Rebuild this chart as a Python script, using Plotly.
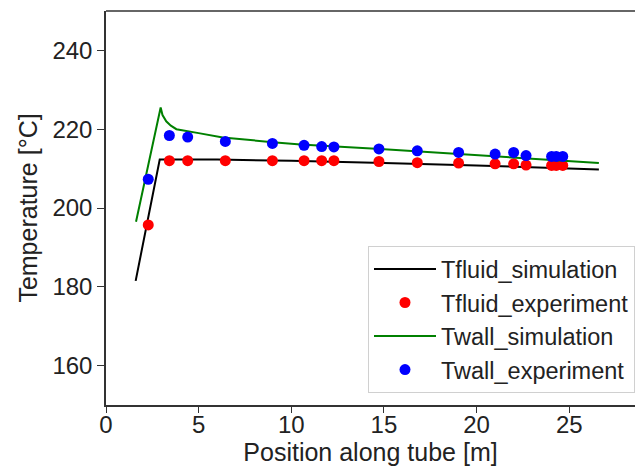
import plotly.graph_objects as go

# Simulation curves
sim_fluid_x = [1.6, 2.9, 6.0, 10.0, 15.0, 20.0, 26.6]
sim_fluid_y = [181.5, 212.3, 212.3, 212.0, 211.4, 210.8, 209.8]

sim_wall_x = [1.62, 2.95, 3.05, 3.25, 3.5, 3.8, 5.0, 6.3, 9.0, 10.5, 14.8, 21.3, 26.6]
sim_wall_y = [196.5, 225.5, 223.6, 222.0, 220.9, 220.0, 219.0, 217.9, 216.7, 216.1, 215.0, 213.0, 211.4]

# Experimental points
exp_x = [2.28, 3.42, 4.41, 6.44, 8.98, 10.69, 11.64, 12.3, 14.73, 16.8, 19.03,
         21.0, 22.0, 22.67, 24.05, 24.3, 24.65]
exp_fluid_y = [195.7, 212.0, 212.0, 212.0, 212.0, 212.0, 212.0, 212.0, 211.8, 211.5,
               211.4, 211.2, 211.2, 210.9, 210.8, 210.8, 210.8]
exp_wall_y = [207.3, 218.4, 218.0, 216.9, 216.4, 215.9, 215.6, 215.5, 215.0, 214.5,
              214.1, 213.7, 214.1, 213.3, 213.1, 213.1, 213.1]

x_ticks = [0, 5, 10, 15, 20, 25]
y_ticks = [160, 180, 200, 220, 240]

FONT = "Arial, Liberation Sans, sans-serif"

fig = go.Figure()
fig.add_trace(go.Scatter(x=sim_fluid_x, y=sim_fluid_y, mode="lines",
                         line=dict(color="black", width=2),
                         name="Tfluid_simulation"))
fig.add_trace(go.Scatter(x=exp_x, y=exp_fluid_y, mode="markers",
                         marker=dict(color="#ff0000", size=11),
                         name="Tfluid_experiment"))
fig.add_trace(go.Scatter(x=sim_wall_x, y=sim_wall_y, mode="lines",
                         line=dict(color="#008000", width=2),
                         name="Twall_simulation"))
fig.add_trace(go.Scatter(x=exp_x, y=exp_wall_y, mode="markers",
                         marker=dict(color="#0000ff", size=11),
                         name="Twall_experiment"))

fig.update_layout(
    width=635, height=473,
    margin=dict(l=106, r=0, t=11, b=68),
    paper_bgcolor="white", plot_bgcolor="white",
    font=dict(family=FONT, color="#222222", size=22),
    showlegend=True,
    legend=dict(x=1, xanchor="right", y=0.03, yanchor="bottom",
                bgcolor="white", bordercolor="#d0d0d0", borderwidth=1,
                font=dict(size=23.5, color="#222222"),
                itemwidth=62),
    xaxis=dict(range=[0, 28.55], tickvals=x_ticks, ticks="outside", ticklen=6,
               tickcolor="#333333", showline=True, linecolor="#333333", linewidth=1.5,
               showgrid=False, zeroline=False, tickfont=dict(size=24),
               ticklabelstandoff=-9,
               title=dict(text="Position along tube [m]", font=dict(size=25), standoff=0)),
    yaxis=dict(range=[150, 250], tickvals=y_ticks, ticks="outside", ticklen=7,
               tickcolor="#333333", showline=True, linecolor="#333333", linewidth=1.5,
               showgrid=False, zeroline=False, tickfont=dict(size=24),
               title=dict(text="Temperature [°C]", font=dict(size=25), standoff=8)),
)
fig.add_shape(type="line", xref="paper", yref="paper", x0=0, x1=1, y0=1, y1=1,
              line=dict(color="#333333", width=1.5))

fig.write_html("out.html")
